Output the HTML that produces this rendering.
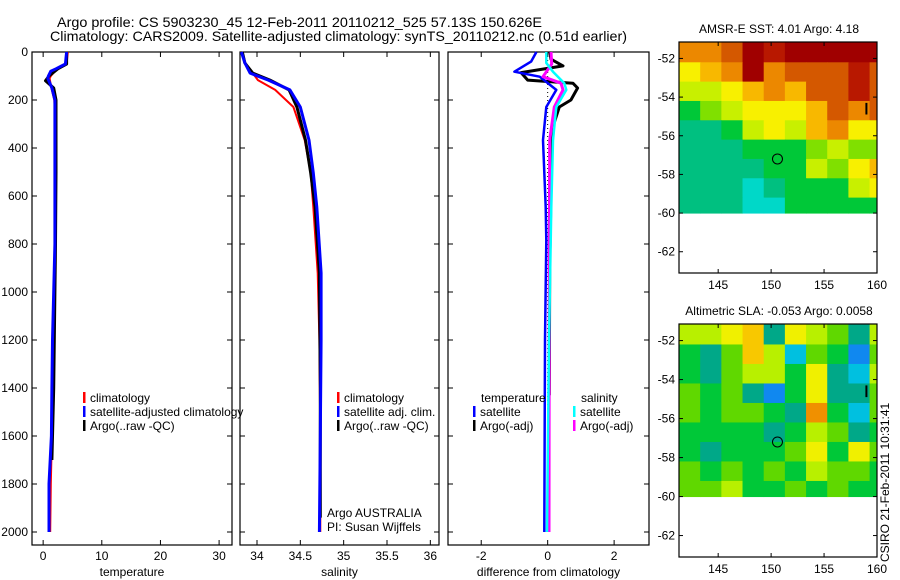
<!DOCTYPE html>
<html><head><meta charset="utf-8"><style>
body{margin:0;background:#fff;}
svg{display:block;font-family:"Liberation Sans",sans-serif;}
</style></head><body>
<svg id="c" width="900" height="580" viewBox="0 0 900 580">
<text x="57" y="27" font-size="14" textLength="485" lengthAdjust="spacingAndGlyphs">Argo profile: CS 5903230_45 12-Feb-2011 20110212_525 57.13S 150.626E</text>
<text x="50" y="41" font-size="14" textLength="577" lengthAdjust="spacingAndGlyphs">Climatology: CARS2009. Satellite-adjusted climatology: synTS_20110212.nc (0.51d earlier)</text>
<g id="g"></g>
</svg>
<script>
const NS='http://www.w3.org/2000/svg';
const G=document.getElementById('g');
function mk(t,a,p){const e=document.createElementNS(NS,t);for(const k in a)e.setAttribute(k,a[k]);(p||G).appendChild(e);return e;}
function txt(x,y,s,size,anchor,p){const e=mk('text',{x:x,y:y,'font-size':size||12,'text-anchor':anchor||'start'},p);e.textContent=s;return e;}

// ---- profile data ----
const tempDepth=[0,50,70,80,100,110,150,200,300,500,800,1000,1200,1400,1600,1800,2000];
const tempClim=[4.2,4.0,2.6,2.0,1.3,1.1,1.4,1.9,2.1,2.1,2.0,2.0,1.8,1.6,1.5,1.3,1.2];
const tempSat=[4.0,3.8,2.2,1.3,0.9,0.8,1.5,2.0,2.0,2.0,2.0,1.8,1.6,1.5,1.4,1.0,1.0];
const tempArgoDepth=[0,50,70,100,120,150,200,300,500,800,1000,1400,1700];
const tempArgo=[4.0,4.0,2.5,1.0,0.4,1.8,2.2,2.2,2.2,2.1,2.0,1.8,1.5];
const salDepth=[0,46,88,117,158,229,367,504,646,921,1200,1600,2000];
const salClim=[33.83,33.86,33.95,34.01,34.21,34.42,34.55,34.62,34.65,34.70,34.72,34.73,34.73];
const salSat=[33.82,33.86,33.92,34.13,34.38,34.5,34.6,34.65,34.69,34.74,34.74,34.73,34.72];
const salArgoDepth=[0,46,88,117,158,229,367,504,646,921,1400,1800,1940];
const salArgo=[33.83,33.86,33.95,34.15,34.37,34.46,34.56,34.62,34.67,34.72,34.73,34.73,34.73];
const dTSatDepth=[0,40,82,103,158,229,367,646,785,1200,2000];
const dTSat=[-0.34,-0.5,-1.0,-0.24,0.26,-0.04,-0.14,-0.06,-0.04,-0.08,-0.1];
const dTArgoDepth=[0,30,58,86,117,130,150,200,229,310,504,900,1430];
const dTArgo=[0.06,0.1,0.46,-0.8,-0.6,0.76,0.9,0.7,0.35,0.16,0.11,0.06,0.05];
const dSSatDepth=[0,46,82,130,158,229,367,646,1200,2000];
const dSSat=[-0.04,-0.04,0.16,0.5,0.56,0.26,0.16,0.11,0.04,-0.02];
const dSArgoDepth=[0,50,103,130,158,229,367,800,2000];
const dSArgo=[0.1,0.12,-0.14,0.4,0.46,0.2,0.06,0.05,0.04];
const depthTicks=[0,200,400,600,800,1000,1200,1400,1600,1800,2000];
const tempTicks=[0,10,20,30];
const salTicks=[34,34.5,35,35.5,36];
const salTickLabels=['34','34.5','35','35.5','36'];
const diffTicks=[-2,0,2];

const TOP=52,BOT=545;
const yD=d=>TOP+d*0.24;
const panels=[
 {x0:32,x1:232,v0:-1.9,v1:32.2,name:'temperature-panel'},
 {x0:240,x1:439,v0:33.804,v1:36.1,name:'salinity-panel'},
 {x0:448,x1:649,v0:-3.0,v1:3.05,name:'difference-panel'}];
panels.forEach(p=>p.sx=v=>p.x0+(v-p.v0)/(p.v1-p.v0)*(p.x1-p.x0));

function frame(p,ticks,labels,xlabel){
 const g=mk('g',{});
 
 
 const r=mk('rect',{x:p.x0,y:TOP,width:p.x1-p.x0,height:BOT-TOP,fill:'none',stroke:'#000','stroke-width':1.2},g);
 
 
 ticks.forEach((t,i)=>{const x=p.sx(t);
  mk('line',{x1:x,x2:x,y1:BOT,y2:BOT-5,stroke:'#000'},g);
  mk('line',{x1:x,x2:x,y1:TOP,y2:TOP+5,stroke:'#000'},g);
  const l=txt(x,560,labels[i],12,'middle',g);
  
  });
 depthTicks.forEach(d=>{const y=yD(d);
  mk('line',{x1:p.x0,x2:p.x0+5,y1:y,y2:y,stroke:'#000'},g);
  mk('line',{x1:p.x1,x2:p.x1-5,y1:y,y2:y,stroke:'#000'},g);});
 const xl=txt((p.x0+p.x1)/2,576,xlabel,12,'middle',g);
 
 
 return g;
}
frame(panels[0],tempTicks,tempTicks.map(String),'temperature');
frame(panels[1],salTicks,salTickLabels,'salinity');
frame(panels[2],diffTicks,diffTicks.map(String),'difference from climatology');
depthTicks.forEach(d=>{const l=txt(28,yD(d)+4,String(d),12,'end');
 
 });

function line(p,ds,vs,col,w,name){
 const pts=ds.map((d,i)=>p.sx(vs[i]).toFixed(1)+','+yD(d).toFixed(1)).join(' ');
 const e=mk('polyline',{points:pts,fill:'none',stroke:col,'stroke-width':w,'stroke-linejoin':'round'});
 
 
}
// zero dotted line
const z=panels[2].sx(0);
const zl=mk('line',{x1:z,x2:z,y1:TOP,y2:yD(2000),stroke:'#000','stroke-dasharray':'1,3'});



line(panels[0],tempDepth,tempClim,'#f00',2,'temp-climatology-line');
line(panels[0],tempArgoDepth,tempArgo,'#000',3,'temp-argo-line');
line(panels[0],tempDepth,tempSat,'#00f',3,'temp-satellite-line');
line(panels[1],salDepth,salClim,'#f00',2,'sal-climatology-line');
line(panels[1],salArgoDepth,salArgo,'#000',3,'sal-argo-line');
line(panels[1],salDepth,salSat,'#00f',3,'sal-satellite-line');
line(panels[2],dTArgoDepth,dTArgo,'#000',3,'diff-temp-argo-line');
line(panels[2],dTSatDepth,dTSat,'#00f',2.5,'diff-temp-satellite-line');
line(panels[2],dSArgoDepth,dSArgo,'#f0f',3,'diff-sal-argo-line');
line(panels[2],dSSatDepth,dSSat,'#0ff',2.5,'diff-sal-satellite-line');

function leg(x,y,col,label){
 const g=mk('g',{});
 
 
 mk('rect',{x:x,y:y-10,width:2.5,height:11,fill:col},g);
 txt(x+7,y,label,12,'start',g);
}
leg(83,402,'#f00','climatology');leg(83,416,'#00f','satellite-adjusted climatology');leg(83,430,'#000','Argo(..raw -QC)');
leg(337,402,'#f00','climatology');leg(337,416,'#00f','satellite adj. clim.');leg(337,430,'#000','Argo(..raw -QC)');
txt(481,402,'temperature',12);txt(581,402,'salinity',12);
leg(473,416,'#00f','satellite');leg(473,430,'#000','Argo(-adj)');
leg(573,416,'#0ff','satellite');leg(573,430,'#f0f','Argo(-adj)');
txt(327,517,'Argo AUSTRALIA',12);txt(327,531,'PI: Susan Wijffels',12);

// ---- maps ----
const mapLonTicks=[145,150,155,160];
const mapLatTicks=[-52,-54,-56,-58,-60,-62];
const sstColors=['#00d8c8','#00c080','#00c838','#80e000','#c8f000','#f8f000','#f8b800','#ec8800','#d45800','#b81800','#a00000'];
const slaColors=['#1088f0','#00c0e0','#00a888','#00c838','#60d800','#b8f000','#f0f000','#f8c800','#f09000'];
const sstGrid=[
[7,7,8,10,9,10,10,10,10,10],
[5,6,7,10,7,8,8,8,9,8],
[4,4,5,6,7,6,8,8,9,8],
[2,3,4,5,5,5,6,8,7,8],
[1,1,2,4,5,4,6,7,5,5],
[1,1,1,2,2,2,3,4,3,3],
[1,1,1,1,2,2,4,3,5,6],
[1,1,1,0,1,2,2,2,4,5],
[1,1,1,0,0,2,2,2,2,2]];
const slaGrid=[
[5,5,6,7,2,6,5,4,2,5],
[3,2,4,7,5,1,4,3,0,4],
[3,2,4,5,5,3,6,2,1,5],
[4,3,4,2,0,3,6,2,2,4],
[4,3,4,4,3,2,8,3,1,4],
[3,3,3,3,2,3,5,4,2,3],
[3,2,3,3,3,4,6,3,6,4],
[4,3,4,3,4,3,5,4,4,3],
[4,4,5,3,3,4,3,4,3,3]];
const gridLon0=141.3,gridDLon=2,gridLat0=-51.2,gridDLat=1,dataLatMin=-60;
const floatLon=150.6,floatLat=-57.2;

function map(top,bot,grid,colors,title,name){
 const m={x0:679,x1:877,lon0:141.3,lon1:160,lat0:-51.15,lat1:-63.1};
 const sx=l=>m.x0+(l-m.lon0)/(m.lon1-m.lon0)*(m.x1-m.x0);
 const sy=l=>top+(l-m.lat0)/(m.lat1-m.lat0)*(bot-top);
 const g=mk('g',{});
 
 
 grid.forEach((row,r)=>row.forEach((v,c)=>{
  const la=gridLat0-r*gridDLat, la2=Math.max(la-gridDLat,dataLatMin);
  const lo=gridLon0+c*gridDLon, lo2=Math.min(lo+gridDLon,m.lon1);
  const y1=r===0?top:sy(la);
  const e=mk('rect',{x:sx(lo),y:y1,width:sx(lo2)-sx(lo)+0.5,height:sy(la2)-y1+0.5,fill:colors[v]},g);
  
  }));
 mk('rect',{x:m.x0,y:top,width:m.x1-m.x0,height:bot-top,fill:'none',stroke:'#000','stroke-width':1.2},g);
 mapLonTicks.forEach(l=>{const x=sx(l);
  mk('line',{x1:x,x2:x,y1:bot,y2:bot-4,stroke:'#000'},g);mk('line',{x1:x,x2:x,y1:top,y2:top+4,stroke:'#000'},g);
  const t=txt(x,bot+16,String(l),12,'middle',g);
  
  });
 mapLatTicks.forEach(l=>{const y=sy(l);
  mk('line',{x1:m.x0,x2:m.x0+4,y1:y,y2:y,stroke:'#000'},g);mk('line',{x1:m.x1,x2:m.x1-4,y1:y,y2:y,stroke:'#000'},g);
  const t=txt(m.x0-4,y+4,String(l).replace('-','-'),12,'end',g);
  
  });
 const c=mk('circle',{cx:sx(floatLon),cy:sy(floatLat),r:5,fill:'none',stroke:'#000'},g);
 
 
 mk('line',{x1:sx(159),x2:sx(159),y1:sy(-54.3),y2:sy(-54.9),stroke:'#000','stroke-width':2},g);
 const tt=txt(779,top-9,title,12,'middle',g);
 
 
}
map(42,273,sstGrid,sstColors,'AMSR-E SST: 4.01 Argo: 4.18','sst-map');
map(324,557,slaGrid,slaColors,'Altimetric SLA: -0.053 Argo: 0.0058','sla-map');
const cs=txt(0,0,'CSIRO 21-Feb-2011 10:31:41',12,'start');
cs.setAttribute('transform','translate(889,562) rotate(-90)');


</script>
</body></html>
